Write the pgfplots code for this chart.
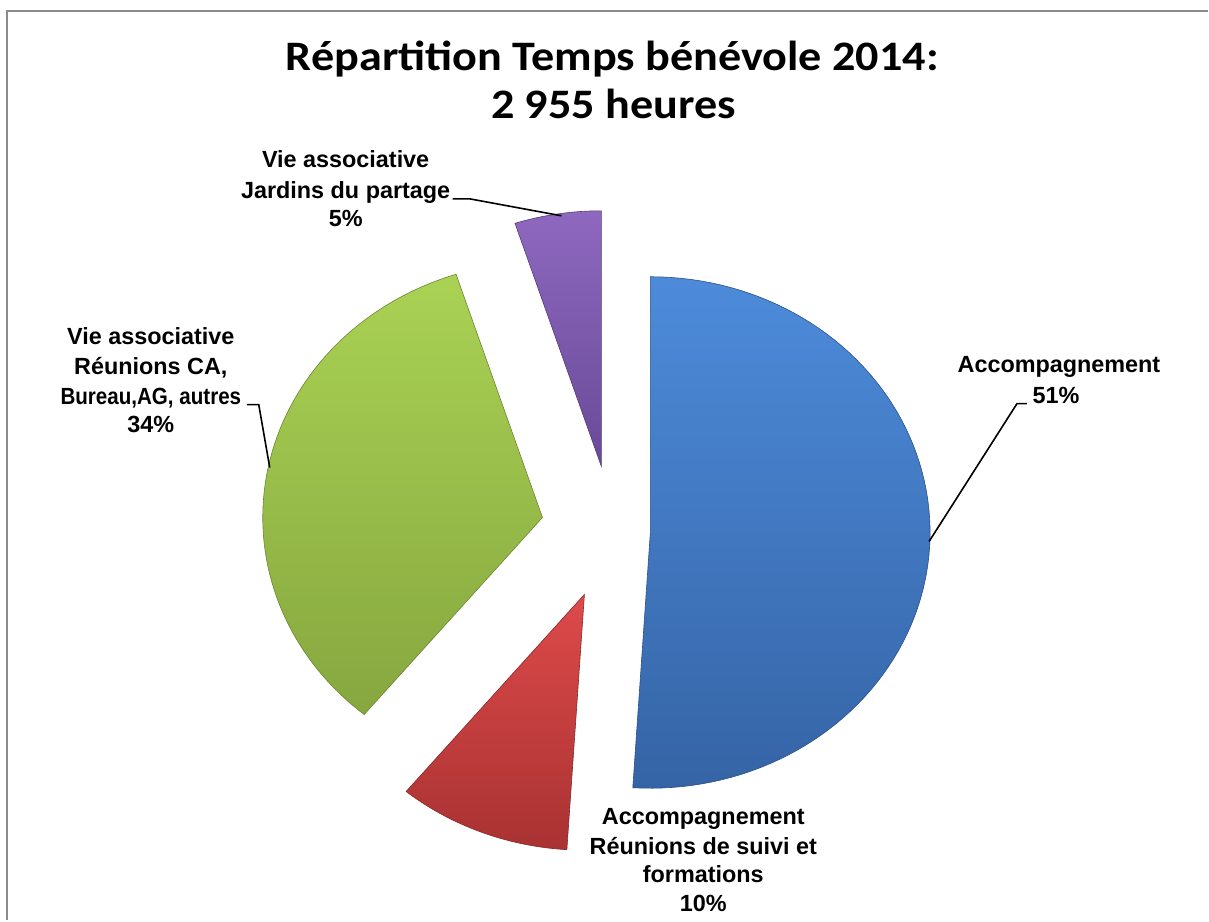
\documentclass[border=0pt]{standalone}
\usepackage{fontspec}
\setmainfont{Liberation Sans}
\newfontfamily\ttl{Carlito}
\usepackage{pgfplots}
\pgfplotsset{compat=1.18}

\definecolor{bluetop}{HTML}{4D8BDA}
\definecolor{bluebot}{HTML}{3564A6}
\definecolor{redtop}{HTML}{DE4A4A}
\definecolor{redbot}{HTML}{A93232}
\definecolor{greentop}{HTML}{AAD254}
\definecolor{greenbot}{HTML}{86A73F}
\definecolor{purptop}{HTML}{8E68BF}
\definecolor{purpbot}{HTML}{694A97}
\definecolor{frame}{HTML}{8C8C8C}

% one slice: angle from, angle to, centre x, centre y, top colour, bottom colour
\newcommand{\slice}[6]{%
  \addplot[draw=#6!80!black, line width=0.3bp, top color=#5, bottom color=#6,
    domain=#1:#2, samples=90, variable=\t]
    ({#3+280*cos(\t)}, {#4-256*sin(\t)}) -- (axis cs:#3,#4) -- cycle;
}
\newcommand{\lbl}[3]{\node[anchor=base, inner sep=0pt, font=\bfseries\fontsize{11.7bp}{15bp}\selectfont] at (axis cs:#1,#2) {#3};}

\begin{document}
\begin{tikzpicture}
\begin{axis}[
  x=0.5bp, y=0.5bp, y dir=reverse,
  xmin=0, xmax=1209, ymin=0, ymax=921,
  hide axis, clip=false, scale only axis,
]
\addplot[draw=none] coordinates {(0,0) (1209,921)};
% frame of the chart area
\addplot[frame, line width=1.2bp] coordinates {(7,921) (7,11) (1209,11)};

% shares in percent: 51, 10, 34, 5 (clockwise from 12 o'clock)
\pgfmathsetmacro{\aA}{90}
\pgfmathsetmacro{\aB}{90-3.6*51}
\pgfmathsetmacro{\aC}{\aB-3.6*10}
\pgfmathsetmacro{\aD}{\aC-3.6*34}
\pgfmathsetmacro{\aE}{\aD-3.6*5}

\slice{\aB}{\aA}{651}{533}{bluetop}{bluebot}
\slice{\aC}{\aB}{585}{595}{redtop}{redbot}
\slice{\aD}{\aC}{543}{518}{greentop}{greenbot}
\slice{\aE}{\aD}{602}{467}{purptop}{purpbot}

% leader lines
\addplot[black, line width=0.8bp] coordinates {(1028,404) (1018,404) (930,542)};
\addplot[black, line width=0.8bp] coordinates {(247,405) (259,405) (270,468)};
\addplot[black, line width=0.8bp] coordinates {(453,199) (470,199) (562,216)};

% title
\node[anchor=base, inner sep=0pt, xscale=1.1, font=\ttl\bfseries\fontsize{21bp}{25bp}\selectfont] at (axis cs:613,71) {Répartition Temps bénévole 2014:};
\node[anchor=base, inner sep=0pt, xscale=1.1, font=\ttl\bfseries\fontsize{21bp}{25bp}\selectfont] at (axis cs:614,119) {2 955 heures};

% data labels
\lbl{1060}{373}{Accompagnement}
\lbl{1057}{404}{51\%}
\lbl{704}{825}{Accompagnement}
\lbl{704}{855}{Réunions de suivi et}
\lbl{704}{883}{formations}
\lbl{704}{912}{10\%}
\lbl{151}{345}{Vie associative}
\lbl{151}{375}{Réunions CA,}
\node[anchor=base, inner sep=0pt, xscale=0.88, font=\bfseries\fontsize{11.7bp}{15bp}\selectfont] at (axis cs:151,405) {Bureau,AG, autres};
\lbl{151}{433}{34\%}
\lbl{346}{168}{Vie associative}
\lbl{346}{199}{Jardins du partage}
\lbl{346}{227}{5\%}
\end{axis}
\end{tikzpicture}
\end{document}
